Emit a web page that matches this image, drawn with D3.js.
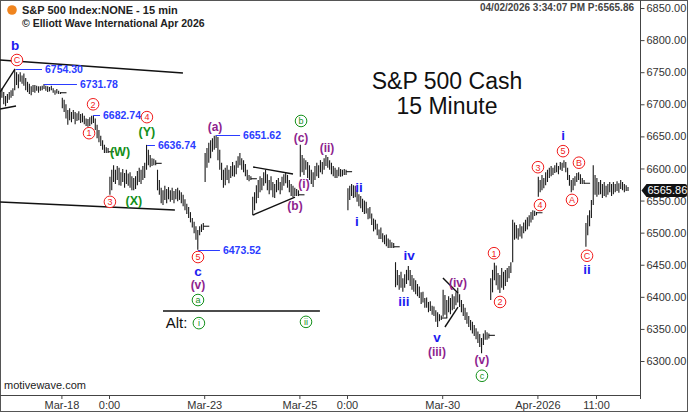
<!DOCTYPE html>
<html>
<head>
<meta charset="utf-8">
<script src="https://cdn.jsdelivr.net/npm/d3@7"></script>
<style>
html, body { margin: 0; padding: 0; background: #fff; }
svg { display: block; font-family: "Liberation Sans", Arial, sans-serif; }
</style>
</head>
<body>
<svg width="688" height="412"></svg>
<script>
// 15 min bars, 26 per session; bar index 0 = first bar of Mar-16
var days = ["Mar-16", "Mar-17", "Mar-18", "Mar-19", "Mar-20", "Mar-23", "Mar-24",
            "Mar-25", "Mar-26", "Mar-27", "Mar-30", "Mar-31", "Apr-1", "Apr-2"];
var firstBar = [18, 0, 0, 0, 0, 0, 0, 0, 0, 0, 0, 0, 0, 0];

var highs = [
  [6722, 6725, 6719, 6713, 6716, 6719, 6722, 6725],
  [6754.30, 6750, 6747, 6750, 6745, 6748, 6741, 6735, 6732, 6728, 6730, 6730, 6729, 6728, 6728, 6729, 6731.78, 6729, 6728, 6727, 6729, 6725, 6722, 6724, 6721, 6719],
  [6710, 6707, 6700, 6691, 6694, 6688, 6691, 6688, 6686, 6689, 6685, 6686, 6682, 6678, 6677, 6680, 6682, 6682.74, 6678, 6668, 6660, 6651, 6644, 6637, 6633, 6632],
  [6587, 6598, 6605, 6598, 6604, 6601, 6594, 6599, 6593, 6598, 6592, 6594, 6588, 6585, 6588, 6596, 6601, 6598, 6604, 6609, 6636.74, 6629, 6621, 6616, 6615, 6613],
  [6598, 6582, 6570, 6566, 6573, 6568, 6571, 6566, 6570, 6565, 6568, 6570, 6566, 6563, 6559, 6552, 6545, 6540, 6532, 6523, 6517, 6510, 6504, 6510, 6513, 6515],
  [6624, 6632, 6640, 6644, 6647, 6651, 6651.62, 6649, 6629, 6609, 6598, 6601, 6605, 6598, 6604, 6610, 6605, 6612, 6619, 6624, 6616, 6613, 6607, 6598, 6590, 6588],
  [6556, 6563, 6574, 6582, 6588, 6585, 6594, 6598, 6591, 6582, 6588, 6579, 6576, 6582, 6585, 6579, 6587, 6591, 6593, 6590, 6582, 6576, 6573, 6570, 6568, 6566],
  [6637, 6621, 6616, 6613, 6610, 6605, 6598, 6594, 6604, 6609, 6605, 6613, 6610, 6616, 6621, 6618, 6613, 6609, 6604, 6601, 6598, 6602, 6599, 6598, 6599, 6598],
  [6569, 6573, 6576, 6574, 6573, 6566, 6560, 6557, 6553, 6550, 6548, 6538, 6540, 6530, 6522, 6520, 6514, 6505, 6508, 6499, 6496, 6497, 6491, 6489, 6485, 6484],
  [6454, 6442, 6434, 6439, 6429, 6435, 6442, 6448, 6442, 6434, 6429, 6426, 6420, 6416, 6407, 6408, 6398, 6399, 6392, 6393, 6386, 6385, 6379, 6376, 6373, 6371],
  [6411, 6403, 6395, 6401, 6398, 6404, 6401, 6407, 6414, 6404, 6395, 6389, 6383, 6376, 6370, 6364, 6361, 6356, 6351, 6346, 6342, 6336, 6343, 6348, 6345, 6343],
  [6429, 6442, 6453, 6449, 6437, 6434, 6445, 6439, 6442, 6445, 6448, 6454, 6520, 6516, 6512, 6507, 6513, 6510, 6516, 6520, 6524, 6527, 6532, 6535, 6534, 6532],
  [6587, 6582, 6590, 6585, 6594, 6598, 6601, 6604, 6601, 6605, 6609, 6604, 6610, 6609, 6613, 6610, 6601, 6590, 6582, 6585, 6588, 6593, 6594, 6591, 6585, 6582],
  [6515, 6527, 6535, 6551, 6605, 6590, 6585, 6579, 6582, 6576, 6579, 6573, 6576, 6579, 6576, 6579, 6576, 6580, 6577, 6582, 6579, 6576, 6574, 6571]
];
var lows = [
  [6707, 6710, 6700, 6697, 6702, 6707, 6710, 6713],
  [6722, 6730, 6725, 6735, 6732, 6729, 6722, 6719, 6716, 6714, 6719, 6718, 6721, 6718, 6721, 6722, 6724, 6721, 6719, 6720, 6722, 6718, 6715, 6717, 6716, 6716],
  [6694, 6688, 6678, 6668, 6675, 6672, 6677, 6669, 6674, 6675, 6671, 6672, 6669, 6666, 6665, 6666, 6669, 6671, 6660, 6647, 6641, 6635, 6629, 6624, 6624, 6624],
  [6559, 6566, 6579, 6576, 6582, 6574, 6573, 6579, 6570, 6576, 6573, 6570, 6566, 6566, 6568, 6574, 6579, 6576, 6582, 6585, 6598, 6605, 6602, 6604, 6605, 6605],
  [6566, 6559, 6546, 6543, 6551, 6546, 6552, 6548, 6551, 6546, 6552, 6549, 6551, 6546, 6541, 6535, 6529, 6523, 6516, 6508, 6499, 6489, 6473.52, 6496, 6501, 6504],
  [6579, 6601, 6609, 6616, 6626, 6629, 6632, 6613, 6598, 6582, 6570, 6574, 6582, 6577, 6585, 6588, 6587, 6591, 6601, 6605, 6598, 6594, 6588, 6582, 6580, 6582],
  [6527, 6535, 6546, 6554, 6563, 6566, 6573, 6577, 6566, 6560, 6566, 6555, 6554, 6563, 6566, 6560, 6566, 6573, 6577, 6570, 6563, 6557, 6555, 6557, 6557, 6557],
  [6587, 6594, 6590, 6598, 6585, 6582, 6576, 6571, 6582, 6588, 6585, 6594, 6591, 6598, 6604, 6601, 6598, 6591, 6588, 6585, 6585, 6588, 6587, 6588, 6590, 6590],
  [6535, 6551, 6557, 6554, 6555, 6548, 6541, 6538, 6532, 6529, 6530, 6521, 6522, 6512, 6502, 6505, 6496, 6490, 6490, 6485, 6482, 6479, 6476, 6476, 6476, 6476],
  [6415, 6418, 6411, 6414, 6408, 6414, 6420, 6426, 6417, 6411, 6408, 6404, 6401, 6398, 6389, 6391, 6383, 6383, 6376, 6378, 6372, 6370, 6361, 6353, 6362, 6364],
  [6369, 6372, 6367, 6376, 6373, 6379, 6381, 6387, 6391, 6384, 6376, 6370, 6364, 6358, 6353, 6348, 6343, 6339, 6334, 6328, 6322, 6312, 6325, 6333, 6333, 6335],
  [6395, 6407, 6426, 6418, 6411, 6406, 6414, 6411, 6417, 6423, 6429, 6437, 6454, 6489, 6491, 6489, 6494, 6491, 6499, 6502, 6505, 6510, 6516, 6520, 6526, 6527],
  [6556, 6563, 6566, 6569, 6574, 6579, 6585, 6588, 6590, 6593, 6594, 6591, 6598, 6596, 6601, 6594, 6582, 6573, 6563, 6566, 6573, 6579, 6582, 6576, 6576, 6576],
  [6478, 6496, 6510, 6523, 6543, 6559, 6556, 6559, 6560, 6554, 6557, 6555, 6559, 6563, 6557, 6560, 6563, 6565, 6562, 6568, 6566, 6563, 6565, 6565]
];
// session close print, drawn as a short tick after the last bar
var dayClose = [null, 6718, 6626, 6608, 6510, 6584, 6559, 6595, 6478, 6367, 6340, 6531, 6577, null];
var lastPrice = 6565.86;

var tickBars = [52, 78, 130, 182, 208, 260, 312, 344];
var tickLabels = ["Mar-18", "0:00", "Mar-23", "Mar-25", "0:00", "Mar-30", "Apr-2026", "11:00"];

// marked price levels: price, from bar, to bar
var levelPrice = [6754.30, 6731.78, 6682.74, 6636.74, 6473.52, 6651.62];
var levelFrom = [27.2, 42.5, 69.3, 98.8, 126.6, 136.4];
var levelTo = [41.4, 60.5, 73.1, 103.1, 138.6, 149.6];

// trendlines: [bar1, price1, bar2, price2]
var trendlines = [
  [18.5, 6769.0, 118.4, 6748.7],
  [18.5, 6547.7, 114.0, 6535.3],
  [107.5, 6377.9, 193.2, 6377.9],
  [156.7, 6602.3, 178.5, 6591.4],
  [156.7, 6527.5, 179.6, 6555.5],
  [18.5, 6719.0, 26.7, 6755.0],
  [18.5, 6692.6, 27.2, 6697.3],
  [260.4, 6429.3, 268.6, 6405.9],
  [261.5, 6353.0, 268.6, 6384.0]
];

// wave labels
var blueText = ["b", "c", "i", "ii", "iii", "iv", "v", "i", "ii"];
var bluePos = [26.7, 126.6, 213.4, 214.5, 239.1, 241.9, 257.1, 326.0, 339.1];
var bluePrice = [6792, 6439, 6518, 6571, 6392, 6464, 6337, 6651, 6442];

var purpleText = ["(a)", "(b)", "(c)", "(i)", "(ii)", "(v)", "(iii)", "(iv)", "(v)"];
var purplePos = [135.9, 179.6, 182.9, 184.5, 197.1, 126.6, 257.1, 268.6, 281.7];
var purplePrice = [6665, 6542, 6648, 6576, 6632, 6418, 6314, 6422, 6302];

var greenText = ["(W)", "(X)", "(Y)"];
var greenPos = [84.0, 91.6, 98.7];
var greenPrice = [6626, 6549, 6657];

var greenCircText = ["a", "b", "c", "i", "ii"];
var greenCircPos = [126.6, 182.9, 281.7, 127.1, 185.6];
var greenCircPrice = [6395, 6674, 6277, 6359, 6361];

var redCircText = ["C", "1", "2", "3", "4", "5", "1", "2", "3", "4", "5", "A", "B", "C"];
var redCircPos = [27.7, 67.1, 69.3, 78.5, 98.7, 126.6, 288.3, 291.6, 312.3, 313.4, 326.0, 330.9, 334.7, 339.1];
var redCircPrice = [6769, 6655, 6700, 6548, 6680, 6462, 6468, 6392, 6602, 6543, 6627, 6551, 6609, 6464];

var altPos = 109.0, altPrice = 6360;

var BLUE = "#1c1cf0", LEVEL = "#2b3cff", PURPLE = "#8e1f8e", GREEN = "#13901a", RED = "#f01c1c";

var svg = d3.select("svg"),
    width = +svg.attr("width"),
    height = +svg.attr("height");

var plotW = 640.5, plotH = 395;

var x = d3.scaleLinear().domain([0, 364]).range([-33.8, 632.6]);
var y = d3.scaleLinear().domain([6248.6, 6862.5]).range([394, 0]);

svg.append("defs").append("clipPath").attr("id", "plotclip")
  .append("rect").attr("x", 0).attr("y", 0).attr("width", plotW).attr("height", plotH);

// frame
svg.append("rect")
  .attr("x", 0.5).attr("y", 0.5).attr("width", width - 1).attr("height", height - 1)
  .attr("fill", "none").attr("stroke", "#555");

var g = svg.append("g").attr("clip-path", "url(#plotclip)");

// build bar list
var bars = [];
days.forEach(function(day, d) {
  highs[d].forEach(function(h, i) {
    bars.push({ idx: d * 26 + firstBar[d] + i, high: h, low: lows[d][i] });
  });
});

g.append("g")
  .attr("stroke", "#1a1a1a")
  .attr("stroke-width", 1.1)
  .selectAll("line")
  .data(bars)
  .join("line")
    .attr("x1", d => x(d.idx + 0.5)).attr("x2", d => x(d.idx + 0.5))
    .attr("y1", d => y(d.high)).attr("y2", d => y(d.low));

// session close ticks
g.append("g")
  .attr("stroke", "#1a1a1a")
  .attr("stroke-width", 1.1)
  .selectAll("line")
  .data(days.map((d, i) => ({ d: i, c: dayClose[i] })).filter(o => o.c != null))
  .join("line")
    .attr("x1", o => x(o.d * 26 + 25.5)).attr("x2", o => x(o.d * 26 + 25.5) + 6)
    .attr("y1", o => y(o.c)).attr("y2", o => y(o.c));

// trendlines
g.append("g")
  .attr("stroke", "#111")
  .attr("stroke-width", 1.4)
  .selectAll("line")
  .data(trendlines)
  .join("line")
    .attr("x1", t => x(t[0])).attr("y1", t => y(t[1]))
    .attr("x2", t => x(t[2])).attr("y2", t => y(t[3]));

// marked levels
var lv = g.append("g");
levelPrice.forEach(function(p, i) {
  var yy = Math.round(y(p)) + 0.5;
  lv.append("line")
    .attr("x1", x(levelFrom[i])).attr("x2", x(levelTo[i]))
    .attr("y1", yy).attr("y2", yy)
    .attr("stroke", LEVEL).attr("stroke-width", 1);
  lv.append("text")
    .attr("x", x(levelTo[i]) + 3).attr("y", yy + 3.5)
    .attr("fill", LEVEL).attr("font-size", "10.5px").attr("font-weight", "bold")
    .text(p.toFixed(2));
});

function textLabels(texts, pos, price, color, size) {
  g.append("g").selectAll("text")
    .data(texts)
    .join("text")
      .attr("x", (t, i) => x(pos[i]))
      .attr("y", (t, i) => y(price[i]))
      .attr("text-anchor", "middle")
      .attr("dominant-baseline", "central")
      .attr("fill", color)
      .attr("font-weight", "bold")
      .attr("font-size", size)
      .text(t => t);
}
textLabels(blueText, bluePos, bluePrice, BLUE, "13.5px");
textLabels(purpleText, purplePos, purplePrice, PURPLE, "12px");
textLabels(greenText, greenPos, greenPrice, GREEN, "12.5px");

function circLabels(texts, pos, price, color) {
  var c = g.append("g").selectAll("g")
    .data(texts)
    .join("g")
      .attr("transform", (t, i) => "translate(" + x(pos[i]) + "," + y(price[i]) + ")");
  c.append("circle").attr("r", 5.8).attr("fill", "#fff").attr("stroke", color).attr("stroke-width", 1);
  c.append("text")
    .attr("text-anchor", "middle").attr("dominant-baseline", "central")
    .attr("y", 0.3)
    .attr("fill", color).attr("font-size", "9px")
    .text(t => t);
}
circLabels(greenCircText, greenCircPos, greenCircPrice, GREEN);
circLabels(redCircText, redCircPos, redCircPrice, RED);

g.append("text")
  .attr("x", x(altPos)).attr("y", y(altPrice))
  .attr("dominant-baseline", "central")
  .attr("font-size", "15px").attr("fill", "#111")
  .text("Alt:");

// axes
var yAxis = svg.append("g").attr("transform", "translate(" + plotW + ",0)");
yAxis.call(d3.axisRight(y).tickValues(d3.range(6260, 6861, 10)).tickSize(2).tickFormat(""));
yAxis.call(d3.axisRight(y).tickValues(d3.range(6300, 6851, 50)).tickSize(4).tickPadding(2)
  .tickFormat(d3.format(".2f")));
yAxis.selectAll(".domain").remove();
yAxis.selectAll("line").attr("stroke", "#444");
yAxis.selectAll("text").attr("fill", "#333").attr("font-size", "11px")
  .attr("font-family", "Liberation Sans, Arial, sans-serif");
svg.append("line").attr("x1", plotW).attr("x2", plotW).attr("y1", 0).attr("y2", plotH + 4)
  .attr("stroke", "#444");

var xAxis = svg.append("g").attr("transform", "translate(0," + plotH + ")");
xAxis.call(d3.axisBottom(x).tickValues(tickBars).tickSize(4).tickPadding(2)
  .tickFormat((d, i) => tickLabels[i]));
xAxis.selectAll(".domain").remove();
xAxis.selectAll("line").attr("stroke", "#444");
xAxis.selectAll("text").attr("fill", "#333").attr("font-size", "11px")
  .attr("font-family", "Liberation Sans, Arial, sans-serif");
svg.append("line").attr("x1", 0).attr("x2", plotW).attr("y1", plotH + 0.5).attr("y2", plotH + 0.5)
  .attr("stroke", "#444");

// last price marker (covers the 6550 tick label, as in the source)
var py = y(lastPrice);
svg.append("path")
  .attr("d", "M" + (plotW + 1) + "," + py + "L" + (plotW + 6) + "," + (py - 6.5) +
        "H" + (width - 3) + "Q" + (width - 1) + "," + (py - 6.5) + " " + (width - 1) + "," + (py - 4.5) +
        "V" + (py + 4.5) + "Q" + (width - 1) + "," + (py + 6.5) + " " + (width - 3) + "," + (py + 6.5) +
        "H" + (plotW + 6) + "Z")
  .attr("fill", "#111");
svg.append("text")
  .attr("x", plotW + 7).attr("y", py + 4)
  .attr("fill", "#fff").attr("font-size", "11px")
  .text(lastPrice.toFixed(2));

// header
svg.append("circle").attr("cx", 12).attr("cy", 10).attr("r", 4.8).attr("fill", "#f0841e");
svg.append("text").attr("x", 22).attr("y", 14)
  .attr("font-size", "11px").attr("font-weight", "bold").attr("fill", "#222")
  .text("S&P 500 Index:NONE - 15 min");
svg.append("text").attr("x", 22).attr("y", 27)
  .attr("font-size", "10.5px").attr("font-weight", "bold").attr("fill", "#222")
  .text("\u00A9 Elliott Wave International Apr 2026");
svg.append("text").attr("x", 634).attr("y", 11)
  .attr("text-anchor", "end")
  .attr("font-size", "10px").attr("font-weight", "bold").attr("fill", "#444")
  .text("04/02/2026 3:34:07 PM  P:6565.86");

svg.append("text").attr("x", 447).attr("y", 89)
  .attr("text-anchor", "middle").attr("font-size", "23px").attr("fill", "#111")
  .text("S&P 500 Cash");
svg.append("text").attr("x", 447).attr("y", 114)
  .attr("text-anchor", "middle").attr("font-size", "23px").attr("fill", "#111")
  .text("15 Minute");

svg.append("text").attr("x", 4).attr("y", 389)
  .attr("font-size", "11px").attr("fill", "#222")
  .text("motivewave.com");
</script>
</body>
</html>
